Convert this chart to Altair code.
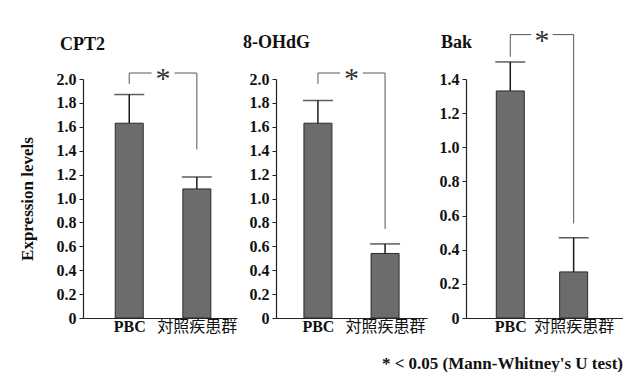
import altair as alt
import pandas as pd

# ---- data ----
groups = ["PBC", "対照疾患群"]
markers = ["CPT2", "8-OHdG", "Bak"]
mean_pbc = [1.63, 1.63, 1.33]
mean_ctrl = [1.08, 0.54, 0.27]
upper_pbc = [1.87, 1.82, 1.50]
upper_ctrl = [1.18, 0.62, 0.47]
y_max = [2.0, 2.0, 1.4]
bracket_top = [2.05, 2.05, 1.66]
bracket_left_end = [1.96, 1.96, 1.53]
bracket_right_end = [1.41, 0.745, 0.554]
footnote = "* < 0.05 (Mann-Whitney's U test)"

# layout helpers (styling only)
x_domains = [[0.39, 2.52], [0.45, 2.55], [0.38, 2.70]]
widths = [154, 151, 157]
title_dx = [-23, -33, -25]
title_dy = [-29, -31, -31]

SERIF = "Liberation Serif"
LABEL_FONT = "Liberation Serif, Noto Sans CJK JP"


def panel(i):
    pos = [1, 2]
    bars = pd.DataFrame({
        "pos": pos,
        "group": groups,
        "mean": [mean_pbc[i], mean_ctrl[i]],
        "upper": [upper_pbc[i], upper_ctrl[i]],
    })
    top = bracket_top[i]
    seg = pd.DataFrame({
        "pos": [1, 1, 1.67, 2],
        "pos2": [1, 1.33, 2, 2],
        "mean": [bracket_left_end[i], top, top, top],
        "upper": [top, top, top, bracket_right_end[i]],
    })
    star = pd.DataFrame({"pos": [1.5], "mean": [top], "t": ["*"]})
    ttl = pd.DataFrame({"t": [markers[i]]})

    step = 0.2
    n = int(round(y_max[i] / step))
    tick_vals = [round(k * step, 1) for k in range(n + 1)]

    xscale = alt.Scale(domain=x_domains[i], nice=False, zero=False)
    yscale = alt.Scale(domain=[0, y_max[i]], nice=False)

    xaxis = alt.Axis(
        values=[1, 2], title=None, ticks=False, grid=False, labelOverlap=False,
        labelExpr="datum.value == 1 ? 'PBC' : '対照疾患群'",
        labelFont=LABEL_FONT, labelFontSize=16, labelColor="#111",
        labelFontWeight=alt.ExprRef("datum.value == 1 ? 'bold' : 'normal'"),
        labelPadding=0, domainColor="#222", domainWidth=1.2,
    )
    yaxis = alt.Axis(
        values=tick_vals, tickCount=len(tick_vals), grid=False, labelOverlap=False,
        labelExpr="datum.value == 0 ? '0' : format(datum.value, '.1f')",
        labelFont=SERIF, labelFontSize=16, labelFontWeight="bold", labelColor="#111",
        tickSize=4, tickColor="#222", domainColor="#222", domainWidth=1.2,
        labelPadding=3,
        title="Expression levels" if i == 0 else None,
        titleFont=SERIF, titleFontSize=17, titleFontWeight="bold", titleColor="#111",
        titlePadding=20,
    )
    X = alt.X("pos:Q", scale=xscale, axis=xaxis)
    Y = alt.Y("mean:Q", scale=yscale, axis=yaxis)

    base_bar = alt.Chart(bars).mark_bar(
        size=28, color="#6c6c6c", stroke="#2a2a2a", strokeWidth=1
    ).encode(x=X, y=Y)
    err = alt.Chart(bars).mark_rule(color="#1a1a1a", strokeWidth=1.5).encode(
        x=X, y=Y, y2="upper:Q"
    )
    cap = alt.Chart(bars).mark_tick(
        orient="horizontal", size=30, thickness=1.5, color="#1a1a1a"
    ).encode(x=X, y=alt.Y("upper:Q", scale=yscale, axis=yaxis))
    br = alt.Chart(seg).mark_rule(color="#555", strokeWidth=1).encode(
        x=X, x2="pos2:Q", y=Y, y2="upper:Q"
    )
    st = alt.Chart(star).mark_text(
        font=SERIF, fontSize=30, color="#333", baseline="alphabetic", dy=15
    ).encode(x=X, y=Y, text="t:N")
    tt = alt.Chart(ttl).mark_text(
        font=SERIF, fontSize=18, fontWeight="bold", color="#111",
        align="left", baseline="alphabetic",
    ).encode(x=alt.value(title_dx[i]), y=alt.value(title_dy[i]), text="t:N")

    return alt.layer(base_bar, err, cap, br, st, tt).properties(
        width=widths[i], height=239,
    )


chart = alt.hconcat(
    panel(0), panel(1), panel(2), spacing=39, bounds="flush"
).properties(
    title=alt.TitleParams(
        footnote, orient="bottom", anchor="end", font=SERIF, fontSize=17,
        fontWeight="bold", color="#111", offset=22,
    ),
    padding={"left": 10, "top": 17, "right": 0, "bottom": 0},
).configure_view(stroke=None)

chart.save("out.html", embed_options={"renderer": "svg", "actions": False})
